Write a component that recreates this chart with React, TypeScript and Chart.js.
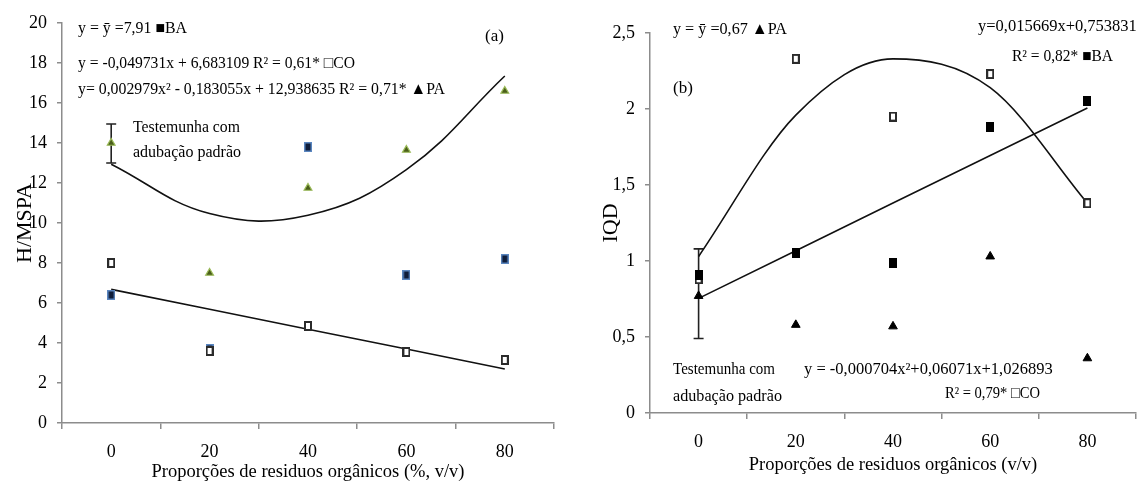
import React, { useEffect, useRef } from 'react';
import { Chart, registerables } from 'chart.js';

Chart.register(...registerables);

const FONT = "'Liberation Serif', 'DejaVu Serif', serif";

// ---------- data ----------
const categories = ['0', '20', '40', '60', '80'];

// Panel (a) H/MSPA
const aBA = [6.4, 3.7, 13.8, 7.4, 8.2];
const aCO = [8.0, 3.6, 4.85, 3.55, 3.15];
const aPA = [14.0, 7.5, 11.75, 13.65, 16.6];
const aFitCO = [6.68, 5.69, 4.69, 3.7, 2.7];
const aFitPA = [12.94, 10.47, 10.39, 12.67, 17.35];
const aErrPA = [13.0, 14.95]; // control (0) error bar low/high

// Panel (b) IQD
const bBA = [0.91, 1.05, 0.99, 1.88, 2.05];
const bCO = [0.88, 2.33, 1.95, 2.23, 1.38];
const bPA = [0.77, 0.58, 0.57, 1.03, 0.36];
const bFitBA = [0.754, 1.067, 1.381, 1.694, 2.007];
const bFitCO = [1.03, 1.96, 2.33, 2.14, 1.38];
const bErrPA = [0.49, 1.08];

const aYTicks = { min: 0, max: 20, step: 2 };
const bYTicks = { min: 0, max: 2.5, step: 0.5 };

const aTexts = [
  { text: 'y = ȳ =7,91 ■BA', x: 78, y: 33, w: 109, size: 16.5 },
  { text: 'y = -0,049731x + 6,683109 R² = 0,61* □CO', x: 78, y: 68, w: 277, size: 16.5 },
  { text: 'y= 0,002979x² - 0,183055x + 12,938635 R² = 0,71* ▲PA', x: 78, y: 94, w: 367, size: 16.5 },
  { text: '(a)', x: 485, y: 41, w: 23, size: 17 },
  { text: 'Testemunha com', x: 133, y: 132, w: 107, size: 17 },
  { text: 'adubação padrão', x: 133, y: 157, w: 108, size: 17 },
];
const bTexts = [
  { text: 'y = ȳ =0,67 ▲PA', x: 98, y: 34, w: 114, size: 16.5 },
  { text: '(b)', x: 98, y: 93, w: 24, size: 17 },
  { text: 'y=0,015669x+0,753831', x: 403, y: 31, w: 168, size: 16.5 },
  { text: 'R² = 0,82* ■BA', x: 437, y: 61, w: 101, size: 16.5 },
  { text: 'Testemunha com', x: 98, y: 374, w: 102, size: 17 },
  { text: 'adubação padrão', x: 98, y: 401, w: 109, size: 17 },
  { text: 'y = -0,000704x²+0,06071x+1,026893', x: 229, y: 374, w: 253, size: 16.5 },
  { text: 'R² = 0,79* □CO', x: 370, y: 398, w: 95, size: 16.5 },
];

type Txt = { text: string; x: number; y: number; w: number; size: number };

type Panel = {
  width: number;
  pad: { left: number; top: number; right: number; bottom: number };
  yW: number;
  xH: number;
  yTitle: string;
  xTitle: string;
  yTicks: { min: number; max: number; step: number };
  datasets: () => any[];
  err: number[];
  texts: Txt[];
};

function rectImg(w: number, h: number, fill: string, stroke: string, lw: number) {
  const c = document.createElement('canvas');
  c.width = w;
  c.height = h;
  const g = c.getContext('2d')!;
  g.fillStyle = fill;
  g.fillRect(0, 0, w, h);
  g.strokeStyle = stroke;
  g.lineWidth = lw;
  g.strokeRect(lw / 2, lw / 2, w - lw, h - lw);
  return c;
}

function pointSet(data: number[], style: any, radius: number, bg: string, border: string, bw: number) {
  return {
    data,
    showLine: false,
    pointStyle: style,
    pointRadius: radius,
    pointBackgroundColor: bg,
    pointBorderColor: border,
    pointBorderWidth: bw,
    borderColor: border,
    backgroundColor: bg,
  };
}

function lineSet(data: number[], tension: number, mode: string) {
  return {
    data,
    showLine: true,
    pointRadius: 0,
    borderColor: '#111',
    borderWidth: 1.6,
    tension,
    cubicInterpolationMode: mode,
    fill: false,
  };
}

const panelA: Panel = {
  width: 570,
  pad: { left: 8, top: 23, right: 16, bottom: 3 },
  yW: 54,
  xH: 64,
  yTitle: 'H/MSPA',
  xTitle: 'Proporções de residuos orgânicos (%, v/v)',
  yTicks: aYTicks,
  datasets: () => [
    pointSet(aCO, rectImg(8, 10, '#ffffff', '#2b2b2b', 2), 5, '#ffffff', '#2b2b2b', 2),
    pointSet(aBA, rectImg(8, 10, '#0f1d3a', '#5a86c0', 1.5), 5, '#0f1d3a', '#4f81bd', 1.5),
    pointSet(aPA, 'triangle', 4.5, '#4a5e1a', '#9bbb59', 1.2),
    lineSet(aFitCO, 0, 'default'),
    lineSet(aFitPA, 0.4, 'default'),
  ],
  err: aErrPA,
  texts: aTexts,
};

const panelB: Panel = {
  width: 573,
  pad: { left: 19, top: 33, right: 12, bottom: 10 },
  yW: 56,
  xH: 67,
  yTitle: 'IQD',
  xTitle: 'Proporções de residuos orgânicos (v/v)',
  yTicks: bYTicks,
  datasets: () => [
    pointSet(bBA, rectImg(8, 10, '#000000', '#000000', 1), 5, '#000000', '#000000', 1.5),
    pointSet(bPA, 'triangle', 5, '#000000', '#000000', 1),
    pointSet(bCO, rectImg(8, 10, '#ffffff', '#2b2b2b', 2), 5, '#ffffff', '#2b2b2b', 2),
    lineSet(bFitBA, 0, 'default'),
    lineSet(bFitCO, 0.4, 'monotone'),
  ],
  err: bErrPA,
  texts: bTexts,
};

function buildConfig(p: Panel): any {
  const errPlugin = {
    id: 'errbar',
    beforeDatasetsDraw(chart: any) {
      const ctx = chart.ctx;
      const xs = chart.scales.x;
      const ys = chart.scales.y;
      const x = xs.getPixelForValue(0);
      const y1 = ys.getPixelForValue(p.err[0]);
      const y2 = ys.getPixelForValue(p.err[1]);
      ctx.save();
      ctx.strokeStyle = '#222';
      ctx.lineWidth = 1.6;
      ctx.beginPath();
      ctx.moveTo(x, y1);
      ctx.lineTo(x, y2);
      ctx.moveTo(x - 5, y1);
      ctx.lineTo(x + 5, y1);
      ctx.moveTo(x - 5, y2);
      ctx.lineTo(x + 5, y2);
      ctx.stroke();
      ctx.restore();
    },
  };
  const textPlugin = {
    id: 'texts',
    afterDraw(chart: any) {
      const ctx = chart.ctx;
      ctx.save();
      ctx.fillStyle = '#000';
      ctx.textAlign = 'left';
      ctx.textBaseline = 'alphabetic';
      for (const t of p.texts) {
        ctx.font = `${t.size}px ${FONT}`;
        ctx.fillText(t.text, t.x, t.y, t.w);
      }
      ctx.restore();
    },
  };
  const axisColor = '#8c8c8c';
  return {
    type: 'line',
    data: { labels: categories, datasets: p.datasets() },
    plugins: [errPlugin, textPlugin],
    options: {
      animation: false,
      responsive: false,
      maintainAspectRatio: false,
      layout: { padding: p.pad },
      plugins: { legend: { display: false }, tooltip: { enabled: false } },
      scales: {
        x: {
          type: 'category',
          offset: true,
          grid: {
            offset: true,
            drawOnChartArea: false,
            drawTicks: true,
            tickLength: 6,
            color: axisColor,
            lineWidth: 1.5,
          },
          border: { color: axisColor, width: 1.5 },
          ticks: { color: '#000', font: { family: FONT, size: 18 }, padding: 12, maxRotation: 0 },
          title: { display: true, text: p.xTitle, color: '#000', font: { family: FONT, size: 18.5 } },
          afterFit: (s: any) => {
            s.height = p.xH;
          },
        },
        y: {
          min: p.yTicks.min,
          max: p.yTicks.max,
          grid: {
            drawOnChartArea: false,
            drawTicks: true,
            tickLength: 5,
            color: axisColor,
            lineWidth: 1.5,
          },
          border: { color: axisColor, width: 1.5 },
          ticks: {
            stepSize: p.yTicks.step,
            color: '#000',
            font: { family: FONT, size: 18 },
            padding: 10,
            callback: (v: any) => String(Number(Number(v).toFixed(1))).replace('.', ','),
          },
          title: { display: true, text: p.yTitle, color: '#000', font: { family: FONT, size: 22 } },
          afterFit: (s: any) => {
            s.width = p.yW;
          },
        },
      },
    },
  };
}

function ChartPanel({ panel, left }: { panel: Panel; left: number }) {
  const ref = useRef<HTMLCanvasElement | null>(null);
  useEffect(() => {
    if (!ref.current) return;
    const chart = new Chart(ref.current, buildConfig(panel));
    return () => chart.destroy();
  }, [panel]);
  return (
    <div style={{ position: 'absolute', left, top: 0, width: panel.width, height: 490 }}>
      <canvas ref={ref} width={panel.width} height={490} style={{ display: 'block' }} />
    </div>
  );
}

export default function App() {
  return (
    <div
      style={{
        position: 'absolute',
        left: 0,
        top: 0,
        width: 1148,
        height: 490,
        background: '#fff',
        overflow: 'hidden',
      }}
    >
      <ChartPanel panel={panelA} left={0} />
      <ChartPanel panel={panelB} left={575} />
    </div>
  );
}
